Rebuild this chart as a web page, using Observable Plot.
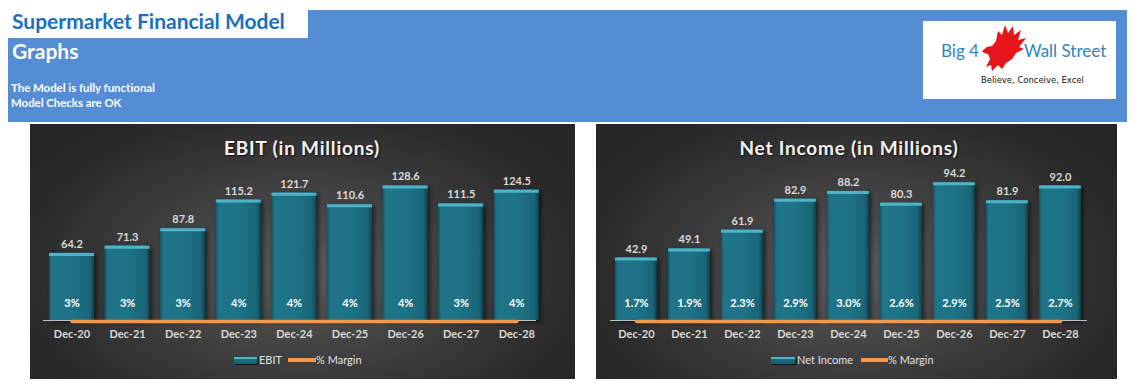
<!DOCTYPE html>
<html>
<head>
<meta charset="utf-8">
<script src="https://cdn.jsdelivr.net/npm/d3@7"></script>
<script src="https://cdn.jsdelivr.net/npm/@observablehq/plot@0.6"></script>
<style>
  html, body { margin: 0; padding: 0; background: #fff; }
  body { position: relative; width: 1135px; height: 388px; overflow: hidden; font-family: Lato, "Open Sans", sans-serif; }
  .abs { position: absolute; }
  .chart { position: absolute; background: radial-gradient(ellipse 60% 75% at 50% 58%, #5a5a5a 0%, #404040 45%, #2a2a2a 85%, #262626 100%); overflow: hidden; }
  .ctitle { position: absolute; top: 12px; transform: translateX(-50%); white-space: nowrap; font: bold 19px Lato, sans-serif; letter-spacing: 0.8px; color: #f2f2f2; text-shadow: 1px 1px 2px rgba(0,0,0,0.7); }
  .leg { position: absolute; top: 229px; height: 14px; font: 11px Lato, sans-serif; color: #e0e0e0; line-height: 14px; white-space: nowrap; }
  .sw { position: absolute; top: 4px; height: 7px; background: linear-gradient(#4fb2c7 0, #4fb2c7 2px, #1d6e82 2px, #175d6e 100%); box-shadow: 1px 1px 1px rgba(0,0,0,0.6); }
  .ln { position: absolute; top: 5px; height: 4px; background: #f79646; }
  svg.plot { position: absolute; left: 0; top: 0; }
</style>
</head>
<body>
<svg width="0" height="0" style="position:absolute">
  <defs>
    <linearGradient id="barGrad" x1="0" y1="0" x2="1" y2="0">
      <stop offset="0" stop-color="#145566"/>
      <stop offset="0.07" stop-color="#1f7488"/>
      <stop offset="0.5" stop-color="#1e7387"/>
      <stop offset="0.9" stop-color="#1a6677"/>
      <stop offset="1" stop-color="#0e4350"/>
    </linearGradient>
  </defs>
</svg>

<!-- Header -->
<div class="abs" style="left:8px;top:10px;width:1119px;height:112px;background:#548dd4"></div>
<div class="abs" style="left:8px;top:10px;width:300px;height:28px;background:#fff"></div>
<div class="abs" style="left:12px;top:8px;font:bold 21px Lato,sans-serif;color:#1a6fbe;white-space:nowrap">Supermarket Financial Model</div>
<div class="abs" style="left:12px;top:38px;font:bold 21px Lato,sans-serif;color:#fff">Graphs</div>
<div class="abs" style="left:11px;top:80px;font:bold 11.4px/15px Lato,sans-serif;color:#fff">The Model is fully functional<br>Model Checks are OK</div>

<!-- Logo -->
<div class="abs" style="left:923px;top:21px;width:193px;height:78px;background:#fff"></div>
<div class="abs" style="left:941px;top:40px;font:17px Lato,sans-serif;color:#2e86c1;white-space:nowrap">Big 4</div>
<div class="abs" style="left:1024px;top:40px;font:17px Lato,sans-serif;color:#2e86c1;white-space:nowrap">Wall Street</div>
<div class="abs" style="left:981px;top:74px;font:9.4px 'Liberation Sans Narrow','DejaVu Sans Condensed',sans-serif;color:#111;white-space:nowrap">Believe, Conceive, Excel</div>
<svg class="abs" style="left:978px;top:23px" width="50" height="50" viewBox="0 0 50 50">
  <path fill="#e8141b" d="M4,28 L9,24 L14,23 L18,18 L20,8 L24,12 L27,2 L30,10 L35,3 L36,12 L43,7 L40,17 L48,15 L41,24 L46,26 L38,30 L34,36 L28,40 L24,46 L20,42 L14,48 L13,42 L8,44 L12,36 L10,31 L6,30 Z"/>
</svg>

<!-- Charts -->
<div class="chart" id="c1" style="left:30px;top:124px;width:545px;height:255px">
  <div class="ctitle" style="left:272px">EBIT (in Millions)</div>
  <div class="leg" style="left:0;width:545px">
    <div class="sw" style="left:204px;width:23px"></div>
    <div class="abs" style="left:229px;top:0">EBIT</div>
    <div class="ln" style="left:258px;width:28px"></div>
    <div class="abs" style="left:286px;top:0">% Margin</div>
  </div>
</div>
<div class="chart" id="c2" style="left:596px;top:124px;width:521px;height:255px">
  <div class="ctitle" style="left:253px">Net Income (in Millions)</div>
  <div class="leg" style="left:0;width:521px">
    <div class="sw" style="left:175px;width:24px"></div>
    <div class="abs" style="left:201px;top:0">Net Income</div>
    <div class="ln" style="left:265px;width:27px"></div>
    <div class="abs" style="left:292px;top:0">% Margin</div>
  </div>
</div>

<script>
// ---- Data ----
const periods = ["Dec-20", "Dec-21", "Dec-22", "Dec-23", "Dec-24", "Dec-25", "Dec-26", "Dec-27", "Dec-28"];
const ebit = [64.2, 71.3, 87.8, 115.2, 121.7, 110.6, 128.6, 111.5, 124.5];
const ebitMargin = [0.03, 0.03, 0.03, 0.04, 0.04, 0.04, 0.04, 0.03, 0.04];
const netIncome = [42.9, 49.1, 61.9, 82.9, 88.2, 80.3, 94.2, 81.9, 92.0];
const netMargin = [0.017, 0.019, 0.023, 0.029, 0.030, 0.026, 0.029, 0.025, 0.027];

function makeChart(values, margins, fmtMargin, cfg) {
  const data = periods.map((p, i) => ({ period: p, value: values[i], margin: margins[i] }));
  const svg = Plot.plot({
    width: cfg.width,
    height: 230,
    marginLeft: cfg.ml,
    marginRight: cfg.mr,
    marginTop: 28,
    marginBottom: 34,
    x: { domain: periods, range: cfg.xr, paddingInner: cfg.pi, paddingOuter: 0.1, round: false, label: null },
    y: { domain: [0, cfg.ymax], axis: null },
    style: { background: "transparent", color: "#d9d9d9", fontFamily: "Lato, sans-serif", fontSize: "11px", fontWeight: "bold", overflow: "visible" },
    marks: [
      Plot.barY(data, { x: "period", y: "value", fill: "url(#barGrad)" }),
      Plot.tickY(data, { x: "period", y: "value", stroke: "#4fb2c7", strokeWidth: 3, dy: 1.5 }),
      Plot.ruleY([0], { stroke: "#bfbfbf", strokeWidth: 1 }),
      Plot.lineY(data, { x: "period", y: "margin", stroke: "#f79646", strokeWidth: 3.5, dy: 1 }),
      Plot.text(data, { x: "period", y: "value", text: d => d.value.toFixed(1), lineAnchor: "bottom", dy: -5, fill: "#d9d9d9" }),
      Plot.text(data, { x: "period", text: d => fmtMargin(d.margin), frameAnchor: "bottom", dy: -14, fill: "#ffffff" }),
      Plot.axisX({ tickSize: 0, tickPadding: 10, fill: "#d9d9d9", label: null })
    ]
  });
  svg.querySelectorAll('g[aria-label="bar"]').forEach(g => g.style.filter = "drop-shadow(2px 2px 2px rgba(0,0,0,0.6))");
  return svg;
}

document.getElementById("c1").appendChild(
  makeChart(ebit, ebitMargin, d3.format(".0%"), { width: 545, ml: 13, mr: 39, xr: [13.4, 514.4], pi: 0.19, ymax: 160 })
);
document.getElementById("c2").appendChild(
  makeChart(netIncome, netMargin, d3.format(".1%"), { width: 521, ml: 14, mr: 30, xr: [13.7, 490.2], pi: 0.21, ymax: 114.5 })
);
</script>
</body>
</html>
